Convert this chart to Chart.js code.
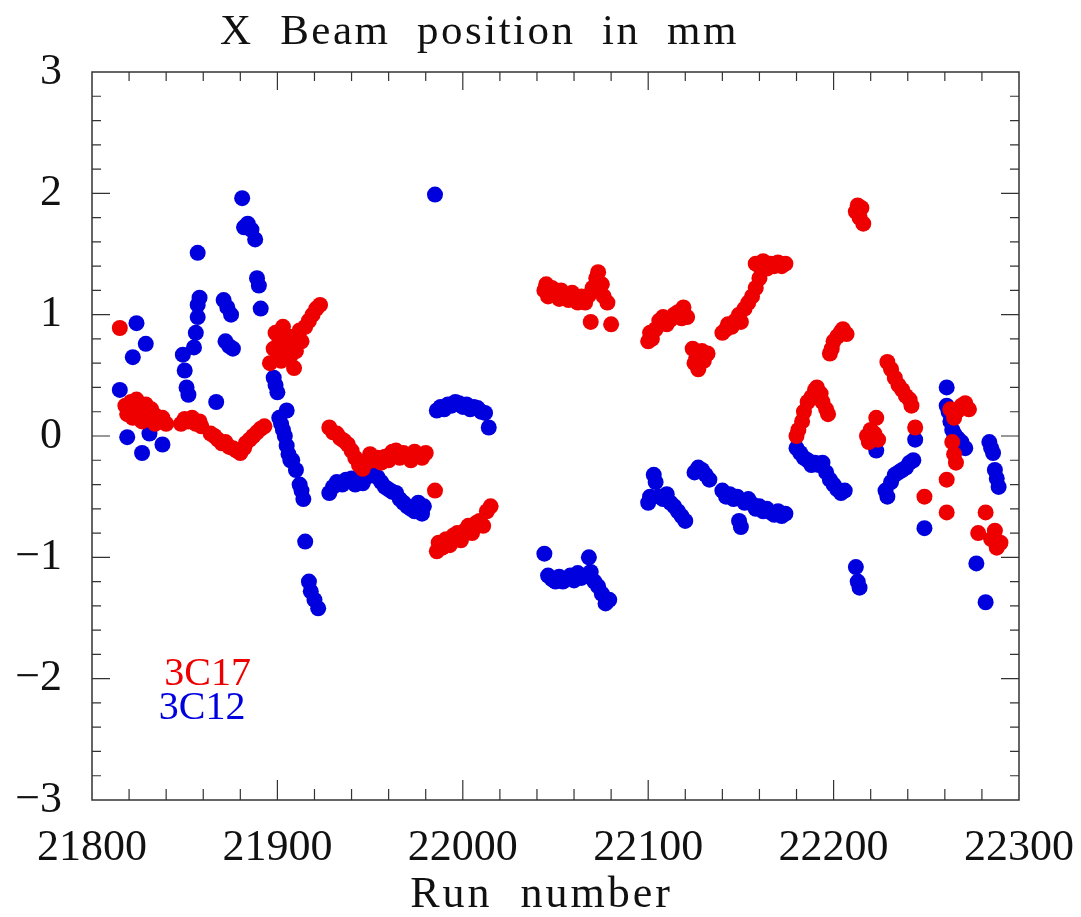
<!DOCTYPE html>
<html>
<head>
<meta charset="utf-8">
<title>X Beam position in mm</title>
<script src="https://cdn.jsdelivr.net/npm/chart.js@4.4.1/dist/chart.umd.min.js"></script>
<style>
  html, body { margin: 0; padding: 0; background: #fff; }
  #wrap { width: 1081px; height: 917px; position: relative; }
</style>
</head>
<body>
<div id="wrap"><canvas id="beamChart"></canvas></div>
<script>
// Run numbers and X beam positions (mm), target 3C17
const runs3C17 = [
  21815,
  21818, 21819, 21820, 21821, 21822, 21823, 21824, 21825, 21826, 21827, 21828, 21829, 21830, 21831, 21832, 21833, 21834, 21835, 21836, 21838, 21840,
  21848, 21850, 21852, 21854, 21856, 21858, 21859,
  21864, 21866, 21868, 21870, 21872, 21874, 21876, 21878, 21880, 21882, 21883, 21885, 21887, 21889, 21891, 21893,
  21896, 21898, 21899, 21900, 21901, 21902, 21903, 21904, 21905, 21906, 21907, 21908, 21909, 21910, 21911, 21912, 21913, 21915, 21917, 21919, 21921, 21923,
  21928, 21930, 21932, 21934, 21936, 21938, 21940, 21942, 21944, 21946, 21948,
  21950, 21952, 21954, 21956, 21958, 21960, 21962, 21964, 21966, 21968, 21970, 21972, 21974, 21976, 21978, 21980,
  21985,
  21986, 21987, 21989, 21991, 21993, 21995, 21997, 21999, 22001, 22003, 22005, 22007, 22009, 22011, 22013, 22015,
  22044, 22045, 22046, 22048, 22050, 22052, 22053, 22055, 22057, 22059, 22060, 22062, 22064, 22066, 22068, 22070, 22072, 22073, 22075, 22076, 22078, 22069, 22080,
  22100, 22101, 22102, 22104, 22106, 22108, 22110, 22112, 22114, 22116, 22118, 22119, 22121,
  22124, 22125, 22126, 22127, 22129, 22130, 22132,
  22140, 22142, 22143, 22145, 22147, 22149, 22150, 22152, 22154, 22156, 22158, 22160,
  22158, 22160, 22162, 22164, 22166, 22168, 22170, 22172, 22174,
  22180, 22181, 22183, 22184, 22186, 22188, 22190, 22191, 22193, 22194, 22196, 22197,
  22198, 22199, 22200, 22202, 22204, 22205, 22207,
  22212, 22213, 22214, 22215, 22216,
  22218, 22219, 22220, 22222, 22223, 22224,
  22229, 22231, 22233, 22235, 22237, 22239, 22241, 22242, 22244,
  22249, 22261, 22261,
  22263, 22265, 22267, 22269, 22271, 22273,
  22264, 22265, 22266,
  22278, 22282, 22285, 22287, 22288, 22290
];
const x3C17 = [
  0.89,
  0.25, 0.18, 0.22, 0.28, 0.15, 0.20, 0.30, 0.24, 0.17, 0.12, 0.22, 0.26, 0.19, 0.14, 0.22, 0.18, 0.10, 0.16, 0.12, 0.15, 0.10,
  0.10, 0.14, 0.12, 0.15, 0.10, 0.12, 0.08,
  0.02, 0.00, -0.03, -0.06, -0.05, -0.09, -0.10, -0.12, -0.14, -0.10, -0.06, -0.03, 0.00, 0.03, 0.06, 0.08,
  0.60, 0.72, 0.85, 0.70, 0.80, 0.62, 0.90, 0.75, 0.68, 0.82, 0.66, 0.74, 0.56, 0.70, 0.80, 0.87, 0.78, 0.90, 0.95, 1.00, 1.05, 1.08,
  0.07, 0.03, 0.02, -0.02, -0.04, -0.07, -0.12, -0.18, -0.24, -0.27, -0.22,
  -0.15, -0.20, -0.18, -0.22, -0.17, -0.20, -0.13, -0.12, -0.18, -0.14, -0.16, -0.20, -0.13, -0.16, -0.18, -0.14,
  -0.45,
  -0.95, -0.88, -0.92, -0.85, -0.90, -0.82, -0.80, -0.86, -0.78, -0.74, -0.80, -0.72, -0.70, -0.74, -0.62, -0.58,
  1.20, 1.25, 1.15, 1.22, 1.18, 1.13, 1.20, 1.16, 1.12, 1.18, 1.14, 1.10, 1.15, 1.10, 1.16, 1.22, 1.30, 1.35, 1.25, 1.15, 1.10, 0.94, 0.92,
  0.78, 0.85, 0.80, 0.88, 0.95, 0.98, 0.92, 0.96, 1.00, 1.02, 0.97, 1.06, 0.98,
  0.72, 0.60, 0.65, 0.55, 0.70, 0.62, 0.68,
  0.85, 0.88, 0.92, 0.90, 0.95, 1.00, 0.94, 1.05, 1.10, 1.15, 1.22, 1.30,
  1.42, 1.40, 1.44, 1.38, 1.42, 1.40, 1.43, 1.40, 1.42,
  0.00, 0.05, 0.12, 0.20, 0.28, 0.32, 0.38, 0.40, 0.35, 0.28, 0.22, 0.18,
  0.68, 0.72, 0.78, 0.82, 0.86, 0.88, 0.84,
  1.85, 1.90, 1.80, 1.88, 1.75,
  0.00, -0.05, 0.05, 0.02, 0.15, -0.03,
  0.61, 0.55, 0.48, 0.42, 0.38, 0.33, 0.30, 0.25, 0.07,
  -0.50, -0.36, -0.63,
  0.22, 0.15, 0.21, 0.25, 0.27, 0.22,
  -0.05, -0.15, -0.22,
  -0.80, -0.63, -0.85, -0.78, -0.92, -0.88
];

// Run numbers and X beam positions (mm), target 3C12
const runs3C12 = [
  21815, 21819, 21822, 21824, 21829, 21827, 21831, 21838,
  21849, 21850, 21851, 21852, 21855, 21856, 21857, 21857, 21858, 21857,
  21867,
  21871, 21873, 21875, 21872, 21874, 21876,
  21881, 21882, 21884, 21886, 21888, 21889, 21890, 21891,
  21898, 21899, 21900, 21901, 21902, 21903, 21904, 21905, 21905, 21906, 21907, 21908, 21910, 21912, 21913, 21914,
  21915, 21917, 21918, 21920, 21922,
  21928, 21930, 21932, 21935, 21937, 21940, 21942, 21944, 21946, 21948, 21950,
  21952, 21954, 21956, 21958, 21960, 21962, 21964, 21966, 21968, 21970, 21972, 21974, 21976, 21978, 21979,
  21985,
  21986, 21988, 21990, 21992, 21994, 21996, 21998, 22000, 22002, 22004, 22006, 22008, 22010, 22012, 22014,
  22044, 22046, 22048, 22050, 22052, 22054, 22056, 22058, 22060, 22062, 22064, 22066, 22068, 22069, 22071, 22073, 22075, 22077, 22079,
  22100, 22101, 22103, 22104, 22106, 22108, 22110, 22112, 22114, 22116, 22118, 22120,
  22125, 22127, 22129, 22131, 22133,
  22140, 22142, 22144, 22146, 22148, 22149, 22150, 22152, 22154, 22156, 22158, 22160, 22162, 22164, 22166, 22168, 22170, 22172, 22174,
  22180, 22182, 22184, 22186, 22188, 22190, 22192, 22194, 22196, 22198, 22200, 22202, 22204, 22206,
  22212, 22213, 22214,
  22223, 22228, 22229, 22231, 22233, 22235, 22237, 22239, 22241, 22243, 22244, 22249,
  22261, 22261, 22262, 22263, 22264, 22265, 22267, 22269, 22271,
  22277, 22282, 22284, 22285, 22286, 22287, 22288, 22289
];
const x3C12 = [
  0.38, -0.01, 0.65, 0.93, 0.76, -0.14, 0.02, -0.07,
  0.67, 0.54, 0.40, 0.34, 0.73, 0.85, 0.98, 1.08, 1.14, 1.51,
  0.28,
  1.12, 1.06, 1.00, 0.78, 0.74, 0.72,
  1.96, 1.72, 1.75, 1.70, 1.62, 1.30, 1.24, 1.05,
  0.48, 0.42, 0.36, 0.15, 0.10, 0.05, 0.00, 0.21, -0.08, -0.15, -0.20, -0.20, -0.28, -0.40, -0.45, -0.52,
  -0.87, -1.20, -1.28, -1.35, -1.42,
  -0.47, -0.42, -0.38, -0.40, -0.36, -0.35, -0.40, -0.38, -0.39, -0.34, -0.30,
  -0.32, -0.34, -0.38, -0.42, -0.44, -0.46, -0.47, -0.52, -0.55, -0.58, -0.60, -0.62, -0.55, -0.64, -0.58,
  1.99,
  0.21, 0.24, 0.22, 0.26, 0.25, 0.28, 0.27, 0.24, 0.26, 0.22, 0.24, 0.23, 0.20, 0.19, 0.07,
  -0.97, -1.15, -1.18, -1.20, -1.16, -1.20, -1.18, -1.15, -1.19, -1.13, -1.17, -1.15, -1.00, -1.12, -1.20, -1.24, -1.30, -1.38, -1.35,
  -0.55, -0.50, -0.32, -0.38, -0.50, -0.52, -0.48, -0.55, -0.58, -0.62, -0.66, -0.70,
  -0.30, -0.26, -0.28, -0.32, -0.36,
  -0.45, -0.50, -0.48, -0.52, -0.50, -0.70, -0.75, -0.55, -0.52, -0.56, -0.60, -0.58, -0.62, -0.60, -0.63, -0.65, -0.62, -0.66, -0.64,
  -0.10, -0.14, -0.18, -0.20, -0.24, -0.22, -0.24, -0.22, -0.30, -0.36, -0.40, -0.44, -0.47, -0.45,
  -1.08, -1.20, -1.25,
  -0.12, -0.45, -0.50, -0.38, -0.32, -0.30, -0.28, -0.26, -0.22, -0.20, -0.03, -0.76,
  0.40, 0.25, 0.20, 0.12, 0.05, 0.02, -0.02, -0.05, -0.10,
  -1.05, -1.37, -0.05, -0.10, -0.14, -0.28, -0.35, -0.42
];

// Axis ranges and tick spacing
const xMin = 21800, xMax = 22300, xMajor = 100, xMinor = 20;
const yMin = -3, yMax = 3, yMajor = 1, yMinor = 0.2;

const red = 'rgb(238, 0, 0)';
const blue = 'rgb(0, 0, 222)';
const serif = '"Liberation Serif", "DejaVu Serif", serif';

function toPoints(runs, vals) {
  return runs.map((r, i) => ({ x: r, y: vals[i] }));
}

// Frame with inward ticks on all four sides
const frameTicks = {
  id: 'frameTicks',
  afterDatasetsDraw(chart) {
    const { ctx, chartArea: a, scales: { x, y } } = chart;
    ctx.save();
    ctx.strokeStyle = '#333';
    ctx.lineWidth = 1.5;
    ctx.strokeRect(a.left, a.top, a.right - a.left, a.bottom - a.top);
    ctx.lineWidth = 1.2;
    ctx.beginPath();
    for (let v = xMin + xMinor; v < xMax; v += xMinor) {
      const px = x.getPixelForValue(v);
      const major = Math.abs(v % xMajor) < 1e-6;
      const lenB = major ? 20 : 11;
      const lenT = major ? 18 : 9;
      ctx.moveTo(px, a.bottom); ctx.lineTo(px, a.bottom - lenB);
      ctx.moveTo(px, a.top); ctx.lineTo(px, a.top + lenT);
    }
    for (let k = 1; k < (yMax - yMin) / yMinor; k++) {
      const v = yMin + k * yMinor;
      const py = y.getPixelForValue(v);
      const major = k % Math.round(yMajor / yMinor) === 0;
      const len = major ? 18 : 9;
      ctx.moveTo(a.left, py); ctx.lineTo(a.left + len, py);
      ctx.moveTo(a.right, py); ctx.lineTo(a.right - len, py);
    }
    ctx.stroke();
    ctx.restore();
  }
};

// Title, axis caption and target labels
const textLayer = {
  id: 'textLayer',
  afterDraw(chart) {
    const { ctx, chartArea: a, scales: { x, y } } = chart;
    ctx.save();
    ctx.textBaseline = 'alphabetic';
    ctx.textAlign = 'center';
    ctx.fillStyle = '#111';
    ctx.font = '43px ' + serif;
    ctx.letterSpacing = '2.5px';
    ctx.fillText('X  Beam  position  in  mm', a.left + (a.right - a.left) * 0.418, 44);

    ctx.letterSpacing = '3px';
    ctx.font = '44px ' + serif;
    ctx.fillText('Run  number', a.left + (a.right - a.left) * 0.485, 907);

    ctx.letterSpacing = '0px';
    ctx.textAlign = 'left';
    ctx.font = '40px ' + serif;
    ctx.fillStyle = red;
    ctx.fillText('3C17', x.getPixelForValue(21839), y.getPixelForValue(-2.05));
    ctx.fillStyle = blue;
    ctx.fillText('3C12', x.getPixelForValue(21836), y.getPixelForValue(-2.33));
    ctx.restore();
  }
};

new Chart(document.getElementById('beamChart'), {
  type: 'scatter',
  data: {
    datasets: [
      {
        label: '3C17',
        data: toPoints(runs3C17, x3C17),
        backgroundColor: red,
        borderWidth: 0,
        pointRadius: 8,
        pointHoverRadius: 8
      },
      {
        label: '3C12',
        data: toPoints(runs3C12, x3C12),
        backgroundColor: blue,
        borderWidth: 0,
        pointRadius: 8,
        pointHoverRadius: 8
      }
    ]
  },
  options: {
    responsive: true,
    maintainAspectRatio: false,
    animation: false,
    layout: { padding: { top: 72, right: 62, left: 0, bottom: 0 } },
    plugins: {
      legend: { display: false },
      tooltip: { enabled: false },
      title: { display: false }
    },
    scales: {
      x: {
        type: 'linear',
        min: xMin,
        max: xMax,
        grid: { display: false, drawTicks: false },
        border: { display: false },
        ticks: {
          stepSize: xMajor,
          padding: 22,
          color: '#111',
          font: { family: serif, size: 44 },
          maxRotation: 0,
          callback: v => String(v)
        },
        afterFit(scale) {
          scale.height = 117;
          scale.paddingLeft = 0;
          scale.paddingRight = 0;
        }
      },
      y: {
        min: yMin,
        max: yMax,
        grid: { display: false, drawTicks: false },
        border: { display: false },
        ticks: {
          stepSize: yMajor,
          padding: 30,
          color: '#111',
          font: { family: serif, size: 44 },
          callback: v => (v < 0 ? '\u2212' + Math.abs(v) : String(v))
        },
        afterFit(scale) {
          scale.width = 92;
          scale.paddingTop = 0;
          scale.paddingBottom = 0;
        }
      }
    }
  },
  plugins: [frameTicks, textLayer]
});
</script>
</body>
</html>
